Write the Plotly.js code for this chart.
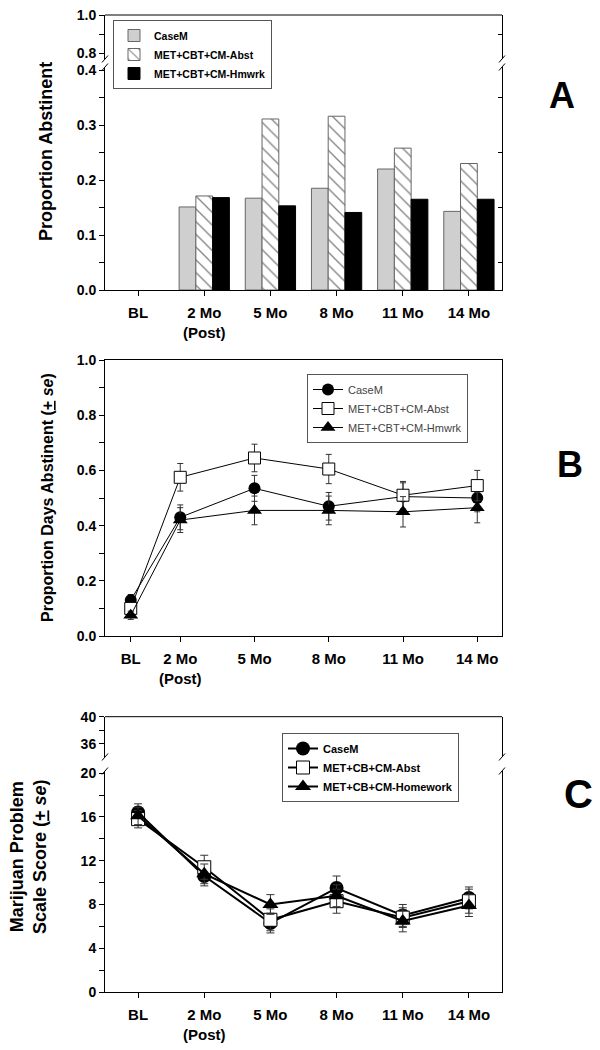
<!DOCTYPE html>
<html>
<head>
<meta charset="utf-8">
<script src="https://cdn.plot.ly/plotly-3.0.1.min.js"></script>
<style>body{margin:0;background:#fff}</style>
</head>
<body>
<div id="chart" style="width:600px;height:1050px"></div>
<script>
// time points
var visitsCat = ['BL', '2 Mo<br>(Post)', '5 Mo', '8 Mo', '11 Mo', '14 Mo'];
var months = [0, 2, 5, 8, 11, 14];
var namesAB = ['CaseM', 'MET+CBT+CM-Abst', 'MET+CBT+CM-Hmwrk'];
var namesC = ['CaseM', 'MET+CB+CM-Abst', 'MET+CB+CM-Homework'];

// A: proportion abstinent (no BL bar)
var propCaseM = [null, 0.151, 0.167, 0.185, 0.220, 0.143];
var propAbst  = [null, 0.171, 0.311, 0.316, 0.258, 0.230];
var propHmwrk = [null, 0.168, 0.153, 0.141, 0.165, 0.165];

// B: proportion days abstinent, +/- se
var pdaCaseM = [0.13, 0.43, 0.535, 0.47, 0.505, 0.50];
var pdaAbst  = [0.10, 0.575, 0.645, 0.605, 0.51, 0.545];
var pdaHmwrk = [0.075, 0.42, 0.455, 0.455, 0.45, 0.465];
var pdaSeCaseM = [0.02, 0.045, 0.047, 0.05, 0.05, 0.05];
var pdaSeAbst  = [0.02, 0.05, 0.05, 0.053, 0.05, 0.055];
var pdaSeHmwrk = [0.015, 0.045, 0.052, 0.052, 0.055, 0.055];

// C: marijuana problem scale, +/- se
var mpsCaseM = [16.4, 10.6, 6.3, 9.5, 7.0, 8.6];
var mpsAbst  = [15.8, 11.4, 6.6, 8.3, 6.8, 8.3];
var mpsHmwrk = [16.1, 10.8, 8.0, 8.8, 6.5, 7.9];
var mpsSeCaseM = [0.8, 0.9, 0.9, 1.1, 1.0, 1.0];
var mpsSeAbst  = [0.8, 1.1, 1.0, 1.1, 0.9, 1.1];
var mpsSeHmwrk = [0.8, 0.9, 0.9, 1.0, 1.0, 1.0];

var FONT = 'Arial, "Liberation Sans", sans-serif';
var W = 600, H = 1050, ML = 105, MR = 98, MT = 15, MB = 58;
function px(x) { return (x - ML) / (W - ML - MR); }
function py(y) { return (H - MB - y) / (H - MT - MB); }

function axis(extra) {
    var a = {
        showline: true, linecolor: '#000', linewidth: 1,
        ticks: 'outside', ticklen: 5, tickwidth: 1, tickcolor: '#000',
        showgrid: false, zeroline: false, fixedrange: true,
        tickfont: {family: FONT, size: 14, weight: 'bold', color: '#000'}
    };
    for (var k in extra) a[k] = extra[k];
    return a;
}
function minor(d) {
    return {dtick: d, ticks: 'outside', ticklen: 5, tickcolor: '#000', showgrid: false};
}
function rightTicks(over, range, vals) {
    return {overlaying: over, side: 'right', anchor: 'x', range: range, showline: false,
            showgrid: false, zeroline: false, showticklabels: false, ticks: 'inside', ticklen: 4,
            tickcolor: '#000', tickmode: 'array', tickvals: vals, fixedrange: true};
}

function errs(arr, w) {
    return {type: 'data', array: arr, visible: true, thickness: 1, width: w, color: '#333'};
}
// empty trace so that an axis with no data of its own is still drawn
function holder(xa, ya, xv) {
    return {type: 'scatter', mode: 'markers', x: [xv], y: [null], xaxis: xa, yaxis: ya,
            showlegend: false, hoverinfo: 'skip'};
}

var traces = [
    // panel A
    {type: 'bar', x: visitsCat, y: propCaseM, name: namesAB[0], legend: 'legend',
     xaxis: 'x', yaxis: 'y',
     marker: {color: '#cfcfcf', line: {color: '#666', width: 1}}},
    {type: 'bar', x: visitsCat, y: propAbst, name: namesAB[1], legend: 'legend',
     xaxis: 'x', yaxis: 'y',
     marker: {color: '#fff', line: {color: '#666', width: 1},
              pattern: {shape: '\\', fgcolor: '#000', bgcolor: '#fff', size: 9, solidity: 0.14, fillmode: 'overlay'}}},
    {type: 'bar', x: visitsCat, y: propHmwrk, name: namesAB[2], legend: 'legend',
     xaxis: 'x', yaxis: 'y',
     marker: {color: '#000', line: {color: '#000', width: 1}}},
    holder('x', 'y2', visitsCat[0]),
    holder('x', 'y6', visitsCat[0]),
    holder('x', 'y7', visitsCat[0]),

    // panel B
    {type: 'scatter', mode: 'lines+markers', x: months, y: pdaCaseM, name: namesAB[0],
     legend: 'legend2', xaxis: 'x2', yaxis: 'y3', error_y: errs(pdaSeCaseM, 3),
     line: {color: '#000', width: 1}, marker: {symbol: 'circle', size: 12, color: '#000'}},
    {type: 'scatter', mode: 'lines+markers', x: months, y: pdaAbst, name: namesAB[1],
     legend: 'legend2', xaxis: 'x2', yaxis: 'y3', error_y: errs(pdaSeAbst, 3),
     line: {color: '#000', width: 1},
     marker: {symbol: 'square', size: 12, color: '#fff', line: {color: '#000', width: 1}}},
    {type: 'scatter', mode: 'lines+markers', x: months, y: pdaHmwrk, name: namesAB[2],
     legend: 'legend2', xaxis: 'x2', yaxis: 'y3', error_y: errs(pdaSeHmwrk, 3),
     line: {color: '#000', width: 1}, marker: {symbol: 'triangle-up', size: 13, color: '#000'}},

    // panel C
    {type: 'scatter', mode: 'lines+markers', x: visitsCat, y: mpsCaseM, name: namesC[0],
     legend: 'legend3', xaxis: 'x3', yaxis: 'y4', error_y: errs(mpsSeCaseM, 4),
     line: {color: '#000', width: 2}, marker: {symbol: 'circle', size: 14, color: '#000'}},
    {type: 'scatter', mode: 'lines+markers', x: visitsCat, y: mpsAbst, name: namesC[1],
     legend: 'legend3', xaxis: 'x3', yaxis: 'y4', error_y: errs(mpsSeAbst, 4),
     line: {color: '#000', width: 2},
     marker: {symbol: 'square', size: 13, color: '#fff', line: {color: '#000', width: 1}}},
    {type: 'scatter', mode: 'lines+markers', x: visitsCat, y: mpsHmwrk, name: namesC[2],
     legend: 'legend3', xaxis: 'x3', yaxis: 'y4', error_y: errs(mpsSeHmwrk, 4),
     line: {color: '#000', width: 2}, marker: {symbol: 'triangle-up', size: 14, color: '#000'}},
    holder('x3', 'y5', visitsCat[0])
];

var xTickFont = {family: FONT, size: 15, weight: 'bold', color: '#000'};

// break marks "/" on a broken axis
function brk(yref, yanchor, xanchor) {
    return {type: 'line', xref: 'paper', xsizemode: 'pixel', xanchor: xanchor, x0: -3, x1: 3,
            yref: yref, ysizemode: 'pixel', yanchor: yanchor, y0: -3.5, y1: 3.5,
            line: {color: '#000', width: 1}};
}
function topLine(yref) {
    return {type: 'line', xref: 'paper', x0: 0, x1: 1, yref: yref, y0: 1, y1: 1,
            line: {color: '#000', width: 1}};
}

function label(text, x, y, size, angle) {
    return {text: text, xref: 'paper', yref: 'paper', x: px(x), y: py(y),
            xanchor: 'center', yanchor: 'middle', showarrow: false, textangle: angle || 0,
            font: {family: FONT, size: size, weight: 'bold', color: '#000'}};
}

var layout = {
    width: W, height: H,
    margin: {l: ML, r: MR, t: MT, b: MB},
    paper_bgcolor: '#fff', plot_bgcolor: '#fff',
    font: {family: FONT, color: '#000'},
    barmode: 'group', bargap: 0.24, bargroupgap: 0,

    // panel A
    xaxis: axis({type: 'category', anchor: 'y', range: [-0.5, 5.5], tickfont: xTickFont, ticklabelstandoff: 4}),
    yaxis: axis({domain: [py(290), py(67)], range: [0, 0.4055], dtick: 0.1, tickformat: '.1f',
                 minor: minor(0.05), anchor: 'x', mirror: true}),
    yaxis2: axis({domain: [py(59), 1], range: [0.7684, 1.0], tick0: 0, dtick: 0.2, tickformat: '.1f',
                  minor: minor(0.1), anchor: 'x', mirror: true}),
    yaxis6: rightTicks('y', [0, 0.4055], [0.05, 0.15, 0.25, 0.35]),
    yaxis7: rightTicks('y2', [0.7684, 1.0], [0.9]),

    // panel B
    xaxis2: axis({anchor: 'y3', range: [-1.04, 15], tickmode: 'array', tickvals: months, ticktext: visitsCat,
                  tickfont: xTickFont, mirror: true, ticklabelstandoff: 4}),
    yaxis3: axis({domain: [py(636), py(360)], range: [0, 1.0], dtick: 0.2, tickformat: '.1f',
                  minor: minor(0.1), anchor: 'x2', mirror: true}),

    // panel C
    xaxis3: axis({type: 'category', anchor: 'y4', range: [-0.5, 5.5], tickfont: xTickFont, ticklabelstandoff: 4}),
    yaxis4: axis({domain: [0, py(771)], range: [0, 20.2], dtick: 4, minor: minor(2), anchor: 'x3', mirror: true}),
    yaxis5: axis({domain: [py(757), py(716.7)], range: [34.05, 40], tick0: 0, dtick: 4,
                  minor: minor(2), anchor: 'x3', mirror: true}),

    legend: {x: px(113), y: py(20), xanchor: 'left', yanchor: 'top', bgcolor: '#fff',
             bordercolor: '#555', borderwidth: 1, tracegroupgap: 0,
             font: {family: FONT, size: 10.5, weight: 'bold', color: '#000'}},
    legend2: {x: px(307), y: py(374), xanchor: 'left', yanchor: 'top', bgcolor: '#fff',
              bordercolor: '#555', borderwidth: 1, tracegroupgap: 0,
              font: {family: FONT, size: 11, color: '#444'}},
    legend3: {x: px(282), y: py(733), xanchor: 'left', yanchor: 'top', bgcolor: '#fff',
              bordercolor: '#555', borderwidth: 1, tracegroupgap: 0,
              font: {family: FONT, size: 11, weight: 'bold', color: '#000'}},

    shapes: [
        topLine('y2 domain'), topLine('y5 domain'),
        brk('y2 domain', 0, 0), brk('y domain', 1, 0), brk('y2 domain', 0, 1), brk('y domain', 1, 1),
        brk('y5 domain', 0, 0), brk('y4 domain', 1, 0), brk('y5 domain', 0, 1), brk('y4 domain', 1, 1)
    ],

    annotations: [
        label('Proportion Abstinent', 46, 152, 18, -90),
        label('Proportion Days Abstinent (<u>+</u> <i>se</i>)', 47, 498, 16, -90),
        label('Marijuan Problem<br>Scale Score (<u>+</u> <i>se</i>)', 28, 857, 18, -90),
        label('A', 562, 95, 36),
        label('B', 570, 465, 36),
        label('C', 578, 794, 40)
    ]
};

Plotly.newPlot('chart', traces, layout, {displayModeBar: false});
</script>
</body>
</html>
